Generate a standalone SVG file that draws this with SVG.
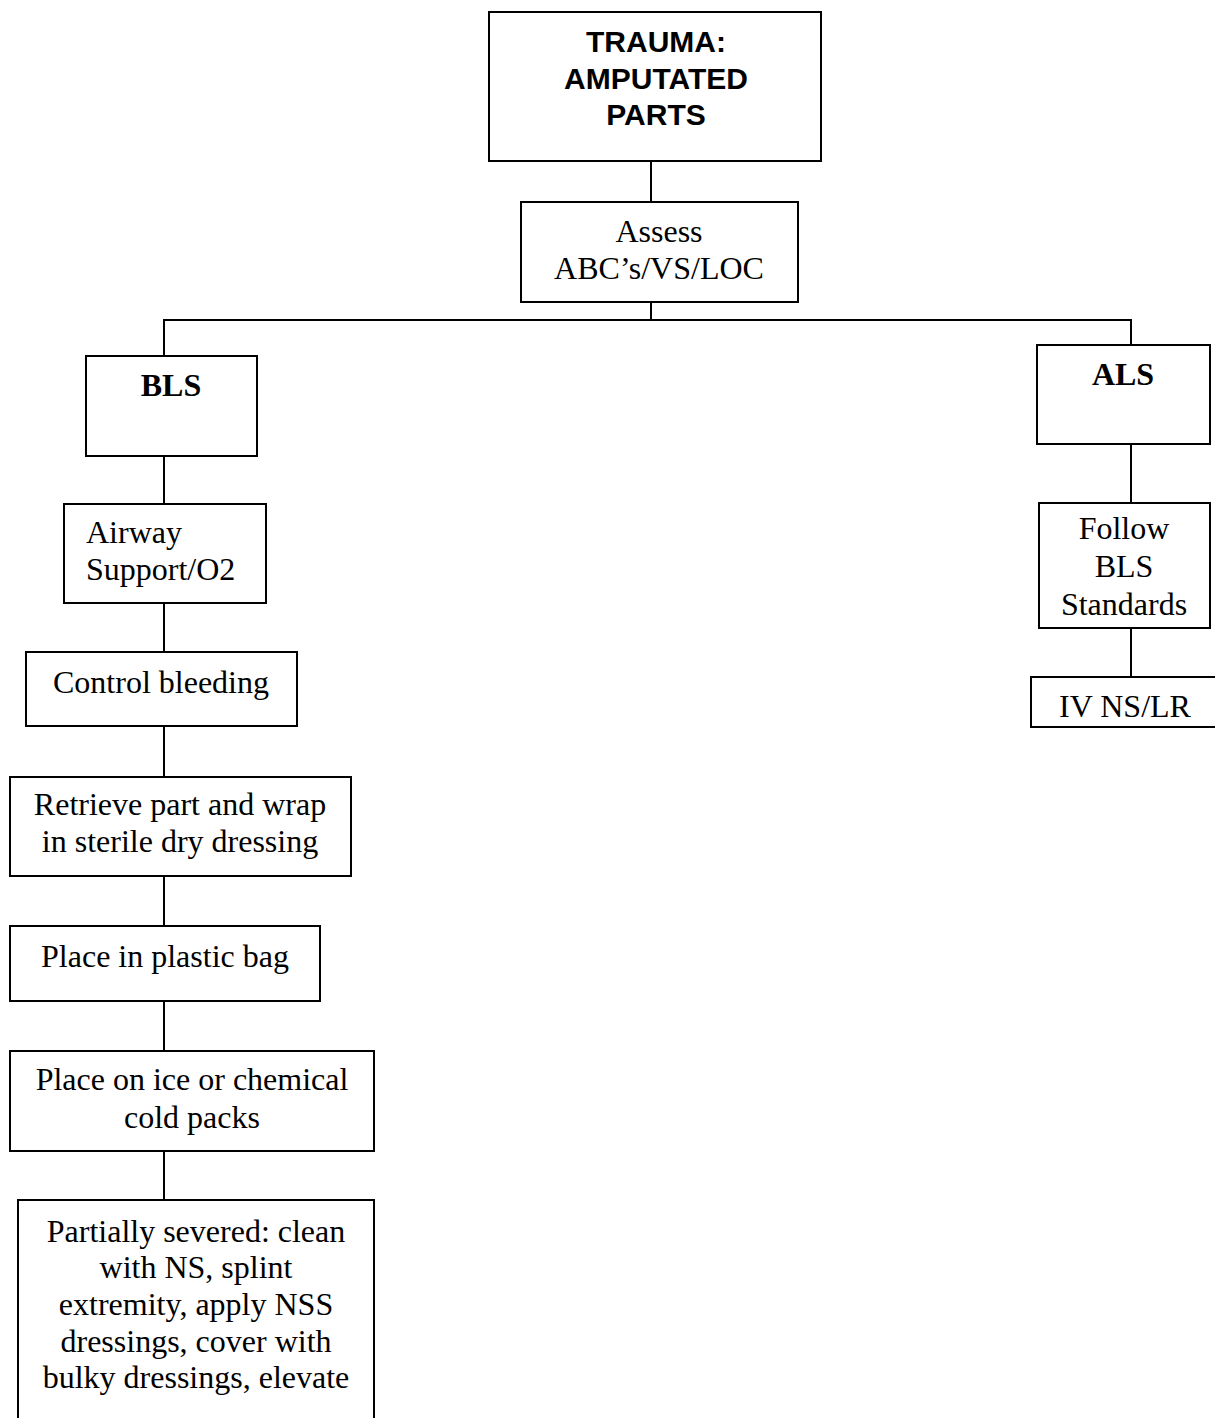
<svg xmlns="http://www.w3.org/2000/svg" width="1215" height="1418" viewBox="0 0 1215 1418">
<style>
.box{fill:#fff;stroke:#000;stroke-width:2}
.ln{fill:none;stroke:#000;stroke-width:2}
.t{font-family:"Liberation Serif","Times New Roman",serif;font-size:32px;fill:#000;text-anchor:middle}
.b{font-weight:bold}
.h{font-family:"Liberation Sans",Arial,sans-serif;font-size:30px;font-weight:bold;fill:#000;text-anchor:middle}
</style>
<rect width="1215" height="1418" fill="#fff"/>
<g id="connectors">
<path class="ln" d="M651 161V202"/>
<path class="ln" d="M651 302V320M164 356V320H1131V345"/>
<path class="ln" d="M164 456V504M164 603V652M164 726V777M164 876V926M164 1001V1051M164 1151V1200"/>
<path class="ln" d="M1131 444V503M1131 628V677"/>
</g>
<g id="title"><rect class="box" x="489" y="12" width="332" height="149"/>
<text class="h" x="656"><tspan x="656" y="52">TRAUMA:</tspan><tspan x="656" y="89">AMPUTATED</tspan><tspan x="656" y="125">PARTS</tspan></text></g>
<g id="assess"><rect class="box" x="521" y="202" width="277" height="100"/>
<text class="t"><tspan x="659" y="242">Assess</tspan><tspan x="659" y="279">ABC’s/VS/LOC</tspan></text></g>
<g id="bls"><rect class="box" x="86" y="356" width="171" height="100"/>
<text class="t b" x="171" y="396">BLS</text></g>
<g id="als"><rect class="box" x="1037" y="345" width="173" height="99"/>
<text class="t b" x="1123" y="385">ALS</text></g>
<g id="airway"><rect class="box" x="64" y="504" width="202" height="99"/>
<text class="t" style="text-anchor:start"><tspan x="86" y="543">Airway</tspan><tspan x="86" y="580">Support/O2</tspan></text></g>
<g id="control"><rect class="box" x="26" y="652" width="271" height="74"/>
<text class="t" x="161" y="693">Control bleeding</text></g>
<g id="retrieve"><rect class="box" x="10" y="777" width="341" height="99"/>
<text class="t"><tspan x="180" y="815">Retrieve part and wrap</tspan><tspan x="180" y="852">in sterile dry dressing</tspan></text></g>
<g id="bag"><rect class="box" x="10" y="926" width="310" height="75"/>
<text class="t" x="165" y="967">Place in plastic bag</text></g>
<g id="ice"><rect class="box" x="10" y="1051" width="364" height="100"/>
<text class="t"><tspan x="192" y="1090">Place on ice or chemical</tspan><tspan x="192" y="1128">cold packs</tspan></text></g>
<g id="partial"><rect class="box" x="18" y="1200" width="356" height="230"/>
<text class="t"><tspan x="196" y="1242">Partially severed: clean</tspan><tspan x="196" y="1278">with NS, splint</tspan><tspan x="196" y="1315">extremity, apply NSS</tspan><tspan x="196" y="1352">dressings, cover with</tspan><tspan x="196" y="1388">bulky dressings, elevate</tspan></text></g>
<g id="follow"><rect class="box" x="1039" y="503" width="171" height="125"/>
<text class="t"><tspan x="1124" y="539">Follow</tspan><tspan x="1124" y="577">BLS</tspan><tspan x="1124" y="615">Standards</tspan></text></g>
<g id="iv"><rect class="box" x="1031" y="677" width="190" height="50"/>
<text class="t" x="1125" y="717">IV NS/LR</text></g>
</svg>
